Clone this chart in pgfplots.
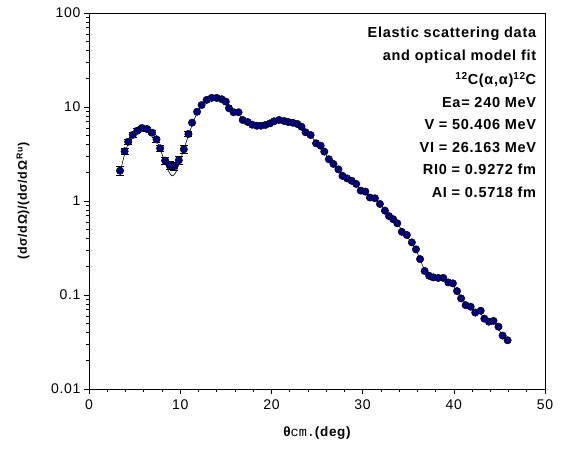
\documentclass[border=0pt]{standalone}
\usepackage{pgfplots}
\pgfplotsset{compat=1.18}
\usepackage{pgfplotstable}
\usepackage{fontspec}
\setmainfont[LetterSpace=5]{Liberation Sans}
\setmonofont{Liberation Mono}
\definecolor{navy}{RGB}{0,0,128}

% measured cross sections: theta, ratio, relative error
\pgfplotstableread{
x y e
3.4 2.10 0.11
3.9 3.38 0.08
4.3 4.27 0.07
4.8 5.04 0.06
5.3 5.6 0.05
5.8 5.98 0.05
6.35 5.84 0.05
6.9 5.33 0.05
7.4 4.53 0.06
7.8 3.64 0.07
8.35 2.69 0.09
8.85 2.41 0.09
9.35 2.35 0.09
9.85 2.71 0.09
10.4 3.55 0.09
10.9 5.16 0.06
11.3 6.81 0.05
11.85 8.9 0.04
12.35 10.5 0.04
12.9 11.9 0.04
13.45 12.5 0.04
14.0 12.5 0.04
14.55 12.1 0.04
15.0 11.4 0.04
15.35 9.7 0.04
15.85 8.8 0.04
16.4 8.8 0.04
16.85 7.28 0.04
17.4 6.92 0.04
17.9 6.48 0.04
18.4 6.32 0.04
18.85 6.32 0.04
19.35 6.44 0.04
19.85 6.7 0.04
20.3 7.05 0.04
20.85 7.28 0.04
21.4 7.1 0.04
21.85 6.92 0.04
22.35 6.8 0.04
22.85 6.6 0.04
23.3 6.17 0.04
23.75 5.38 0.04
24.3 5.04 0.04
24.9 4.11 0.04
25.4 3.88 0.04
25.8 3.35 0.04
26.3 2.78 0.04
26.8 2.48 0.04
27.35 2.17 0.04
27.8 1.85 0.04
28.3 1.74 0.04
28.8 1.64 0.04
29.3 1.52 0.04
29.8 1.29 0.04
30.3 1.26 0.04
30.8 1.09 0.04
31.35 1.07 0.04
31.9 0.93 0.04
32.45 0.79 0.04
32.9 0.69 0.04
33.35 0.64 0.04
33.8 0.58 0.04
34.3 0.47 0.04
34.85 0.435 0.04
35.4 0.363 0.04
35.85 0.306 0.04
36.3 0.241 0.04
36.8 0.18 0.04
37.3 0.16 0.04
37.75 0.154 0.04
38.3 0.152 0.04
38.85 0.152 0.04
39.4 0.136 0.04
39.9 0.133 0.04
40.35 0.110 0.04
40.8 0.092 0.04
41.3 0.078 0.04
41.85 0.075 0.04
42.35 0.065 0.04
42.95 0.068 0.04
43.35 0.056 0.04
43.85 0.052 0.04
44.35 0.053 0.04
44.9 0.046 0.04
45.35 0.037 0.04
45.9 0.033 0.04
}\datatab

% optical model fit
\pgfplotstableread{
x y
3.4 2.0
4.0 3.4
4.5 4.5
5.0 5.2
5.7 5.9
6.3 5.9
7.0 5.2
7.6 4.0
8.2 2.8
8.7 2.1
9.1 1.85
9.5 2.0
10.0 2.7
10.5 3.8
11.0 5.3
11.5 7.2
12.0 9.2
12.5 10.9
13.0 12.0
13.6 12.5
14.2 12.4
14.8 11.6
15.4 10.2
16.0 9.0
16.6 8.0
17.2 7.1
17.8 6.6
18.4 6.35
19.0 6.3
19.6 6.5
20.2 6.9
20.8 7.15
21.4 7.1
22.0 6.95
22.6 6.7
23.2 6.2
23.8 5.4
24.4 4.8
25.0 4.15
25.6 3.6
26.2 2.9
26.8 2.45
27.4 2.1
28.0 1.82
28.6 1.68
29.2 1.53
29.8 1.32
30.4 1.2
31.0 1.08
31.6 0.99
32.2 0.86
32.8 0.71
33.4 0.63
34.0 0.54
34.6 0.45
35.2 0.38
35.8 0.31
36.3 0.24
36.8 0.185
37.4 0.16
38.0 0.153
38.6 0.151
39.2 0.14
39.8 0.13
40.4 0.108
41.0 0.088
41.6 0.077
42.2 0.068
42.8 0.065
43.4 0.057
44.0 0.053
44.6 0.049
45.2 0.039
45.9 0.032
}\fittab

\begin{document}
\begin{tikzpicture}
\begin{axis}[
  name=ax,
  scale only axis,
  width=456pt, height=376pt,
  xmin=0, xmax=50, ymin=0.01, ymax=100,
  ymode=log,
  axis line style={line width=0.7pt},
  xtick={0,10,20,30,40,50},
  minor x tick num=4,
  ytick={0.01,0.1,1,10,100},
  yticklabels={0.01,0.1,1,10,100},
  tick align=outside,
  xtick pos=bottom, ytick pos=left,
  major tick length=5pt, minor tick length=3pt,
  tick style={black, line width=0.6pt},
  /pgf/number format/assume math mode=true,
  ticklabel style={font=\fontsize{14}{16}\selectfont},
  xticklabel style={yshift=-2pt},
  xlabel={{\bfseries θ}{\ttfamily cm.}{\bfseries (deg)}},
  ylabel={(dσ/dΩ)/(dσ/dΩ\textsuperscript{\,Ru})},
  every axis x label/.style={at={(rel axis cs:0.5,0)}, yshift=-44pt, anchor=center, font=\fontsize{13.5}{15}\selectfont},
  every axis y label/.style={at={(rel axis cs:0,0.5)}, xshift=-66pt, rotate=90, anchor=center, font=\bfseries\fontsize{12.5}{15}\selectfont},
]
\addplot[black, line width=0.6pt, smooth, no marks] table[x=x, y=y] {\fittab};
% error bars are only visible beyond the markers at small angles
\addplot[only marks, mark=none, restrict x to domain=0:11,
  error bars/.cd, y dir=both, y explicit relative,
  error mark options={rotate=90, mark size=4pt, line width=0.7pt, black},
  error bar style={line width=0.7pt, black}]
  table[x=x, y=y, y error=e] {\datatab};
\addplot[only marks, mark=*, mark size=3.7pt,
  mark options={fill=navy, draw=black, line width=0.5pt}]
  table[x=x, y=y] {\datatab};
\node[anchor=north east, align=right, inner sep=0pt,
  font=\bfseries\fontsize{14.5}{22.5}\selectfont]
  at (rel axis cs:0.981,0.963)
  {Elastic scattering data\\ and optical model fit\\[2pt]
   \textsuperscript{12}C(α,α)\textsuperscript{12}C\\
   Ea= 240 MeV\\ V = 50.406 MeV\\ VI = 26.163 MeV\\
   RI0 = 0.9272 fm\\ AI = 0.5718 fm};
\end{axis}
\pgfresetboundingbox
\path[use as bounding box] ([xshift=-89pt,yshift=-59pt]ax.south west) rectangle ([xshift=20pt,yshift=13pt]ax.north east);
\end{tikzpicture}
\end{document}
